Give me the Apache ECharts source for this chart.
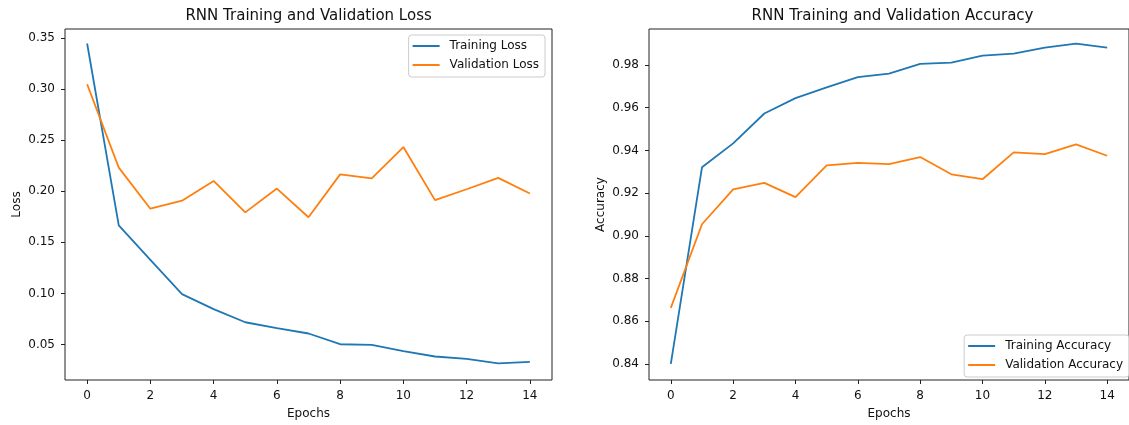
<!DOCTYPE html>
<html>
<head>
<meta charset="utf-8">
<script src="https://cdn.jsdelivr.net/npm/echarts@6/dist/echarts.min.js"></script>
<style>
  html, body { margin: 0; padding: 0; background: #fff; }
  #chart { width: 1129px; height: 425px; }
</style>
</head>
<body>
<div id="chart"></div>
<script>
// values
const epochs = [0, 1, 2, 3, 4, 5, 6, 7, 8, 9, 10, 11, 12, 13, 14]
const trainLoss = [0.3445, 0.1665, 0.1328, 0.0993, 0.0847, 0.0718, 0.0660, 0.0608, 0.0503, 0.0496, 0.0435, 0.0383, 0.0360, 0.0315, 0.0331]
const valLoss = [0.3047, 0.2231, 0.1829, 0.1907, 0.2101, 0.1793, 0.2026, 0.1745, 0.2165, 0.2126, 0.2432, 0.1913, 0.2019, 0.2130, 0.1978]
const trainAcc = [0.8400, 0.9321, 0.9433, 0.9573, 0.9645, 0.9695, 0.9743, 0.9760, 0.9806, 0.9811, 0.9844, 0.9854, 0.9882, 0.9900, 0.9882]
const valAcc = [0.8662, 0.9054, 0.9217, 0.9248, 0.9181, 0.9330, 0.9342, 0.9336, 0.9369, 0.9288, 0.9265, 0.9391, 0.9383, 0.9428, 0.9375]
const xTicks = [0, 2, 4, 6, 8, 10, 12, 14]
const lossTicks = [0.05, 0.10, 0.15, 0.20, 0.25, 0.30, 0.35]
const accTicks = [0.84, 0.86, 0.88, 0.90, 0.92, 0.94, 0.96, 0.98]

const FONT = 'DejaVu Sans'
const BLUE = '#1f77b4'
const ORANGE = '#ff7f0e'

const pairs = (ys) => epochs.map((e, i) => [e, ys[i]])

function xAxisFor(gridIndex) {
  return {
    type: 'value',
    gridIndex: gridIndex,
    min: -0.7,
    max: 14.7,
    name: 'Epochs',
    nameLocation: 'middle',
    nameGap: 28,
    nameTextStyle: { fontFamily: FONT, fontSize: 12, color: '#111' },
    axisLine: { show: false, onZero: false },
    splitLine: { show: false },
    axisTick: { show: true, inside: false, length: 4, customValues: xTicks, lineStyle: { color: '#222', width: 1 } },
    axisLabel: { customValues: xTicks, margin: 10, fontFamily: FONT, fontSize: 12, color: '#111' }
  }
}

function yAxisFor(gridIndex, name, min, max, ticks, gap) {
  return {
    type: 'value',
    gridIndex: gridIndex,
    min: min,
    max: max,
    name: name,
    nameLocation: 'middle',
    nameGap: gap,
    nameTextStyle: { fontFamily: FONT, fontSize: 12, color: '#111' },
    axisLine: { show: false, onZero: false },
    splitLine: { show: false },
    axisTick: { show: true, inside: false, length: 4, customValues: ticks, lineStyle: { color: '#222', width: 1 } },
    axisLabel: {
      customValues: ticks,
      margin: 10,
      fontFamily: FONT,
      fontSize: 12,
      color: '#111',
      formatter: (v) => v.toFixed(2)
    }
  }
}

function lineSeries(name, xi, yi, color, ys) {
  return {
    name: name,
    type: 'line',
    xAxisIndex: xi,
    yAxisIndex: yi,
    data: pairs(ys),
    symbol: 'none',
    smooth: false,
    lineStyle: { color: color, width: 1.8 },
    itemStyle: { color: color }
  }
}

const legendBase = {
  orient: 'vertical',
  icon: 'rect',
  itemWidth: 27,
  itemHeight: 2,
  itemGap: 7,
  padding: [5, 6, 6, 4],
  backgroundColor: 'rgba(255,255,255,0.8)',
  borderColor: '#cccccc',
  borderWidth: 1,
  borderRadius: 3,
  textStyle: { fontFamily: FONT, fontSize: 12, color: '#111', padding: [0, 0, 0, 5] }
}

const option = {
  animation: false,
  backgroundColor: '#fff',
  title: [
    {
      text: 'RNN Training and Validation Loss',
      left: 308.6,
      top: 9,
      padding: 0,
      textAlign: 'center',
      textStyle: { fontFamily: FONT, fontSize: 15, fontWeight: 'normal', color: '#111' }
    },
    {
      text: 'RNN Training and Validation Accuracy',
      left: 892.5,
      top: 9,
      padding: 0,
      textAlign: 'center',
      textStyle: { fontFamily: FONT, fontSize: 15, fontWeight: 'normal', color: '#111' }
    }
  ],
  legend: [
    Object.assign({}, legendBase, { data: ['Training Loss', 'Validation Loss'], right: 584, top: 35 }),
    Object.assign({}, legendBase, { data: ['Training Accuracy', 'Validation Accuracy'], right: 0, bottom: 48 })
  ],
  grid: [
    { left: 65, top: 29, width: 487, height: 354, show: true, borderColor: '#222', borderWidth: 1, backgroundColor: 'transparent' },
    { left: 649, top: 29, width: 487, height: 354, show: true, borderColor: '#222', borderWidth: 1, backgroundColor: 'transparent' }
  ],
  xAxis: [xAxisFor(0), xAxisFor(1)],
  yAxis: [
    yAxisFor(0, 'Loss', 0.0153, 0.3587, lossTicks, 42),
    yAxisFor(1, 'Accuracy', 0.8324, 0.9969, accTicks, 42)
  ],
  series: [
    lineSeries('Training Loss', 0, 0, BLUE, trainLoss),
    lineSeries('Validation Loss', 0, 0, ORANGE, valLoss),
    lineSeries('Training Accuracy', 1, 1, BLUE, trainAcc),
    lineSeries('Validation Accuracy', 1, 1, ORANGE, valAcc)
  ]
}

const chart = echarts.init(document.getElementById('chart'), null, { renderer: 'canvas' })
chart.setOption(option)
</script>
</body>
</html>
